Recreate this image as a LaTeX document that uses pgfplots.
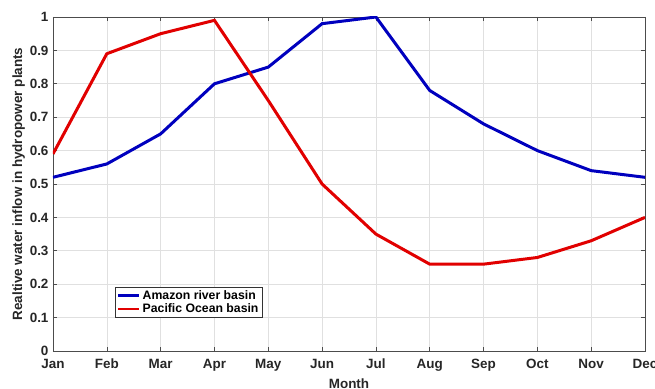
\documentclass[border=0pt]{standalone}
\usepackage{fontspec}
\setmainfont{Liberation Sans}
\usepackage{pgfplots}
\pgfplotsset{compat=1.18}
\definecolor{amz}{RGB}{0,0,190}
\definecolor{pac}{RGB}{225,0,0}
\begin{document}
\begin{tikzpicture}
\path[use as bounding box] (-53bp,-38bp) rectangle (602bp,351bp);
\clip (-53bp,-38bp) rectangle (602bp,351bp);
\begin{axis}[
  at={(0,0)}, anchor=south west,
  scale only axis, width=592bp, height=334bp,
  xmin=0, xmax=11, ymin=0, ymax=1,
  xtick={0,...,11},
  xticklabels={Jan,Feb,Mar,Apr,May,Jun,Jul,Aug,Sep,Oct,Nov,Dec},
  ytick={0,0.1,...,1},
  yticklabels={0,0.1,0.2,0.3,0.4,0.5,0.6,0.7,0.8,0.9,1},
  tick align=inside, tick style={color=black!70, line width=0.6pt},
  major tick length=4bp,
  grid=major, grid style={color=black!12, line width=0.6pt},
  axis line style={color=black!70, line width=0.8pt},
  /pgf/number format/assume math mode=true,
  ticklabel style={font=\fontsize{13.5}{15}\selectfont\bfseries, text=black!85},
  xticklabel style={anchor=north, yshift=-4bp, text height=10bp, text depth=0pt},
  yticklabel style={xshift=-1bp},
  xlabel={Month}, ylabel={Realtive water inflow in hydropower plants},
  label style={font=\fontsize{13.5}{15}\selectfont\bfseries, text=black!85},
  xlabel style={yshift=-3bp},
  ylabel style={yshift=-2bp},
  legend style={at={(0.105,0.099)}, anchor=south west, draw=black!80,
    font=\fontsize{12.3}{14}\selectfont\bfseries, inner sep=1.5bp,
    row sep=-1bp, line width=0.6pt},
  legend cell align=left,
  legend image code/.code={\draw[#1, line width=2.5bp] (0cm,0cm) -- (0.75cm,0cm);},
]
\addplot[amz, line width=3bp] coordinates {
(0,0.52) (1,0.56) (2,0.65) (3,0.80) (4,0.85) (5,0.98) (6,1.00) (7,0.78) (8,0.68) (9,0.60) (10,0.54) (11,0.52)};
\addlegendentry{Amazon river basin}
\addplot[pac, line width=3bp] coordinates {
(0,0.59) (1,0.89) (2,0.95) (3,0.99) (4,0.75) (5,0.50) (6,0.35) (7,0.26) (8,0.26) (9,0.28) (10,0.33) (11,0.40)};
\addlegendentry{Pacific Ocean basin}
\end{axis}
\end{tikzpicture}
\end{document}
